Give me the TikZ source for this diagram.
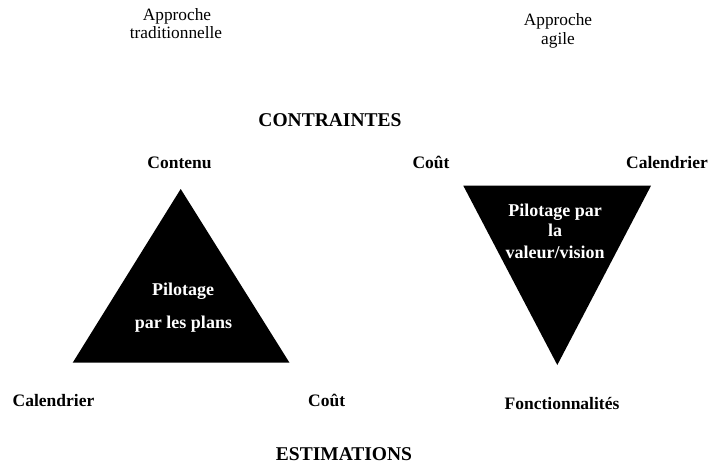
\documentclass[tikz,border=0pt]{standalone}
\usepackage{fontspec}
\setmainfont{Liberation Serif}
\begin{document}
\begin{tikzpicture}[x=1pt,y=-1pt,
  lab/.style={font=\fontsize{17.5}{21}\selectfont\bfseries, anchor=base, inner sep=0pt},
  head/.style={font=\fontsize{19.5}{23}\selectfont\bfseries, anchor=base, inner sep=0pt},
  appr/.style={font=\fontsize{17.3}{19}\selectfont, anchor=base, inner sep=0pt},
  intext/.style={font=\fontsize{18}{21}\selectfont\bfseries, text=white, anchor=base, inner sep=0pt},
  tri/.style={fill=black}]
\useasboundingbox (0,0) rectangle (711,466);
% left triangle
\coordinate (lt) at (180.7,189);
\coordinate (lr) at (289.5,362.7);
\coordinate (ll) at (72.7,362.7);
\fill[tri] (lt) -- (lr) -- (ll) -- cycle;
% right (inverted) triangle
\coordinate (rl) at (463.3,185.7);
\coordinate (rr) at (651,185.7);
\coordinate (rb) at (557.3,365);
\fill[tri] (rl) -- (rr) -- (rb) -- cycle;
% top labels
\node[appr] (a1) at (177,20) {Approche};
\node[appr] (a2) at (176,38) {traditionnelle};
\node[appr] (b1) at (558,25) {Approche};
\node[appr] (b2) at (558,44) {agile};
\node[head] (contr) at (330,126.5) {CONTRAINTES};
\node[lab] (contenu) at (179.5,168) {Contenu};
\node[lab] (cout1) at (431,168) {Coût};
\node[lab] (cal1) at (667,168) {Calendrier};
% inside texts
\node[intext] (p1) at (183,295) {Pilotage};
\node[intext] (p2) at (183.5,328) {par les plans};
\node[intext] (q1) at (555,216.7) {Pilotage par};
\node[intext] (q2) at (555,236.7) {la};
\node[intext] (q3) at (555,258.3) {valeur/vision};
% bottom labels
\node[lab] (cal2) at (53.5,406) {Calendrier};
\node[lab] (cout2) at (326.7,406) {Coût};
\node[lab] (fonc) at (562,409) {Fonctionnalités};
\node[head] (estim) at (344,460) {ESTIMATIONS};
\end{tikzpicture}
\end{document}
